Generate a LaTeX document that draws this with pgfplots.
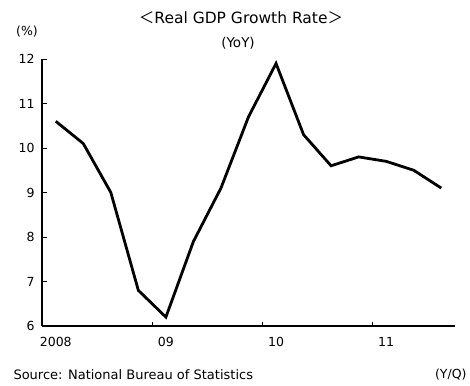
\documentclass[border=0pt]{standalone}
\usepackage{fontspec}
\setmainfont{DejaVu Sans}
\newfontfamily\cjk{Noto Sans CJK JP}
\usepackage{pgfplots}
\pgfplotsset{compat=1.18}
\begin{document}
\begin{tikzpicture}[x=1pt,y=1pt]
\useasboundingbox (-42pt,-59pt) rectangle (428pt,326pt);
\begin{axis}[
  at={(0pt,0pt)}, anchor=south west, scale only axis,
  width=413pt, height=267pt,
  xmin=0, xmax=15, ymin=6, ymax=12,
  axis lines*=left,
  axis line style={line width=1.3pt, black},
  tick align=inside,
  major tick length=4.5pt,
  tick style={line width=1pt, black},
  ytick={6,7,8,9,10,11,12},
  xtick={4,8,12}, xticklabels={},
  extra x ticks={0.5,4.5,8.5,12.5},
  extra x tick labels={2008,09,10,11},
  extra x tick style={major tick length=0pt},
  /pgf/number format/assume math mode=true,
  ticklabel style={font=\fontsize{12.5}{14}\selectfont},
  xticklabel style={yshift=-8pt},
  yticklabel style={xshift=-4pt},
  clip=false,
]
\addplot[black, line width=2.8pt, line join=miter] coordinates {
  (0.5,10.6) (1.5,10.1) (2.5,9.0) (3.5,6.8)
  (4.5,6.2) (5.5,7.9) (6.5,9.1) (7.5,10.7)
  (8.5,11.9) (9.5,10.3) (10.5,9.6) (11.5,9.8)
  (12.5,9.7) (13.5,9.5) (14.5,9.1)
};
\end{axis}
\node[font=\fontsize{15.5}{18}\selectfont] at (199pt,308pt) {{\cjk ＜}Real GDP Growth Rate{\cjk ＞}};
\node[font=\fontsize{13.5}{16}\selectfont] at (196pt,283pt) {(YoY)};
\node[font=\fontsize{12.5}{15}\selectfont] at (-15pt,294pt) {(\%)};
\node[font=\fontsize{13}{15}\selectfont, anchor=west] at (-32pt,-49pt) {Source: National Bureau of Statistics};
\node[font=\fontsize{12.5}{15}\selectfont, anchor=east] at (428pt,-49pt) {(Y/Q)};
\end{tikzpicture}
\end{document}
